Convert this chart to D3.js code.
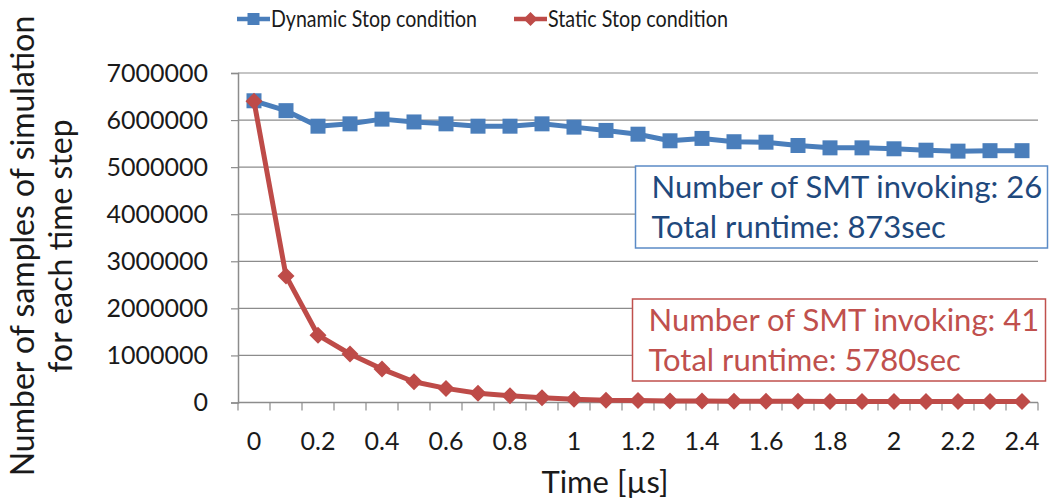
<!DOCTYPE html>
<html>
<head>
<meta charset="utf-8">
<script src="https://cdn.jsdelivr.net/npm/d3@7"></script>
<style>
  html, body { margin: 0; padding: 0; background: #fff; }
  svg { display: block; }
  text { font-family: Lato, "Open Sans", sans-serif; fill: #1a1a1a; }
</style>
</head>
<body>
<svg id="chart" width="1050" height="504"></svg>
<script>
// Time steps (µs) — one category per 0.1 µs
const times = ["0","0.1","0.2","0.3","0.4","0.5","0.6","0.7","0.8","0.9","1","1.1","1.2",
               "1.3","1.4","1.5","1.6","1.7","1.8","1.9","2","2.1","2.2","2.3","2.4"];

// Samples per time step, dynamic stop condition
const dynamicSamples = [6410000, 6200000, 5870000, 5920000, 6020000, 5960000, 5920000, 5870000,
                        5870000, 5920000, 5850000, 5780000, 5700000, 5560000, 5610000, 5540000,
                        5530000, 5460000, 5410000, 5410000, 5390000, 5360000, 5340000, 5350000, 5350000];

// Samples per time step, static stop condition
const staticSamples = [6400000, 2690000, 1430000, 1030000, 710000, 440000, 300000, 195000,
                       145000, 100000, 70000, 47000, 40000, 32000, 30000, 27000, 25000, 24000,
                       23000, 22000, 21000, 20000, 20000, 20000, 20000];

const yTicks = [0, 1000000, 2000000, 3000000, 4000000, 5000000, 6000000, 7000000];
const xLabels = ["0","0.2","0.4","0.6","0.8","1","1.2","1.4","1.6","1.8","2","2.2","2.4"];

const seriesNames = ["Dynamic Stop condition", "Static Stop condition"];
const dynamicNote = ["Number of SMT invoking: 26", "Total runtime: 873sec"];
const staticNote = ["Number of SMT invoking: 41", "Total runtime: 5780sec"];

const BLUE = "#4A7EBB", RED = "#BE4B48", GRID = "#8c8c8c";

const svg = d3.select("#chart");
const plot = { left: 238, right: 1038, top: 73, bottom: 402.5 };

const x = d3.scaleBand().domain(times).range([plot.left, plot.right]).padding(0);
const y = d3.scaleLinear().domain([0, 7000000]).range([plot.bottom, plot.top]);

// Horizontal gridlines
svg.append("g")
  .selectAll("line")
  .data(yTicks.filter(d => d > 0))
  .join("line")
  .attr("x1", plot.left).attr("x2", plot.right)
  .attr("y1", d => y(d)).attr("y2", d => y(d))
  .attr("stroke", GRID).attr("stroke-width", 1.2);

// Y axis
const yAxis = svg.append("g")
  .attr("transform", `translate(${plot.left},0)`)
  .call(d3.axisLeft(y).tickValues(yTicks).tickFormat(d3.format("d")).tickSize(7).tickPadding(23));
yAxis.select(".domain").attr("stroke", GRID).attr("stroke-width", 1.5);
yAxis.selectAll(".tick line").attr("stroke", GRID).attr("stroke-width", 1.2);
yAxis.selectAll(".tick text").attr("font-size", 25).attr("fill", "#1a1a1a")
  .style("font-family", "Lato, 'Open Sans', sans-serif");

// X axis: tick marks sit on category boundaries, labels on every other category
const xAxis = svg.append("g")
  .attr("transform", `translate(0,${plot.bottom})`);
xAxis.append("line")
  .attr("x1", plot.left).attr("x2", plot.right)
  .attr("stroke", GRID).attr("stroke-width", 1.5);
const boundaries = times.map(t => x(t)).concat([x(times[times.length - 1]) + x.bandwidth()]);
xAxis.selectAll("line.tick")
  .data(boundaries)
  .join("line")
  .attr("class", "tick")
  .attr("x1", d => d).attr("x2", d => d)
  .attr("y1", 0).attr("y2", 8)
  .attr("stroke", GRID).attr("stroke-width", 1.2);
xAxis.selectAll("text")
  .data(xLabels)
  .join("text")
  .attr("x", d => x(d) + x.bandwidth() / 2)
  .attr("y", 47.5)
  .attr("text-anchor", "middle")
  .attr("font-size", 25)
  .text(d => d);

// Axis titles
svg.append("text")
  .attr("x", 605).attr("y", 493)
  .attr("text-anchor", "middle")
  .attr("font-size", 31)
  .text("Time [µs]");

const yTitle = ["Number of samples of simulation", "for each time step"];
svg.selectAll("text.ytitle")
  .data(yTitle)
  .join("text")
  .attr("class", "ytitle")
  .attr("transform", (d, i) => `translate(${i === 0 ? 34 : 72},246) rotate(-90)`)
  .attr("text-anchor", "middle")
  .attr("font-size", 32)
  .text(d => d);

// Series lines and markers
const line = d3.line()
  .x((d, i) => x(times[i]) + x.bandwidth() / 2)
  .y(d => y(d));

function drawSeries(values, color, marker) {
  const g = svg.append("g");
  g.append("path")
    .datum(values)
    .attr("d", line)
    .attr("fill", "none")
    .attr("stroke", color)
    .attr("stroke-width", 5)
    .attr("stroke-linejoin", "round");
  g.selectAll("path.m")
    .data(values)
    .join("path")
    .attr("class", "m")
    .attr("transform", (d, i) => `translate(${x(times[i]) + x.bandwidth() / 2},${y(d)})`)
    .attr("d", marker)
    .attr("fill", color);
}

const squareMarker = "M-7.5,-7.5H7.5V7.5H-7.5Z";
const diamondMarker = "M0,-8.5L8.5,0L0,8.5L-8.5,0Z";

drawSeries(dynamicSamples, BLUE, squareMarker);
drawSeries(staticSamples, RED, diamondMarker);

// Legend (labels set slightly condensed)
const legend = [
  { name: seriesNames[0], color: BLUE, marker: "M-6,-6H6V6H-6Z", x: 237, len: 206 },
  { name: seriesNames[1], color: RED, marker: "M0,-7L7,0L0,7L-7,0Z", x: 514, len: 180 }
];
const lg = svg.append("g").selectAll("g").data(legend).join("g")
  .attr("transform", d => `translate(${d.x},19)`);
lg.append("line").attr("x1", 0).attr("x2", 33).attr("y1", 0).attr("y2", 0)
  .attr("stroke", d => d.color).attr("stroke-width", 4.5);
lg.append("path").attr("transform", "translate(16.5,0)").attr("d", d => d.marker)
  .attr("fill", d => d.color);
lg.append("text").attr("x", 34).attr("y", 8).attr("font-size", 22.5)
  .attr("textLength", d => d.len).attr("lengthAdjust", "spacingAndGlyphs")
  .text(d => d.name);

// Annotation boxes
function note(lines, box, color, textColor) {
  const g = svg.append("g");
  g.append("rect")
    .attr("x", box.x).attr("y", box.y).attr("width", box.w).attr("height", box.h)
    .attr("fill", "#fff").attr("stroke", color).attr("stroke-width", 1.5);
  g.selectAll("text").data(lines).join("text")
    .attr("x", box.x + 16)
    .attr("y", (d, i) => box.y + 32 + i * 40)
    .attr("font-size", 31)
    .style("fill", textColor)
    .text(d => d);
}
note(dynamicNote, { x: 635.5, y: 166, w: 412, h: 82 }, "#5b8bc6", "#1F497D");
note(staticNote, { x: 632.5, y: 299, w: 413, h: 82 }, "#c0504d", "#c0504d");
</script>
</body>
</html>
